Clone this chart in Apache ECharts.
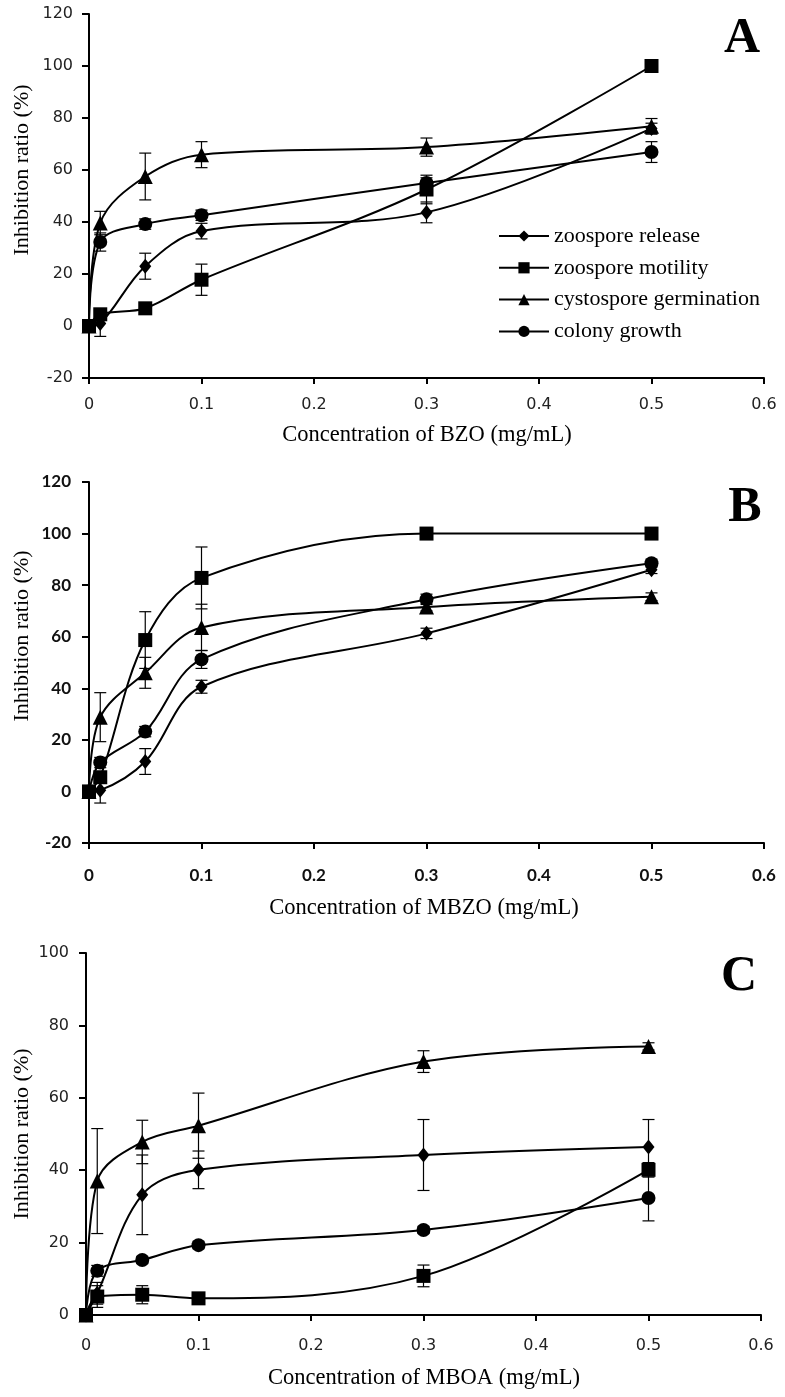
<!DOCTYPE html>
<html>
<head>
<meta charset="utf-8">
<script src="https://cdn.jsdelivr.net/npm/echarts@6/dist/echarts.min.js"></script>
<style>
html,body{margin:0;padding:0;background:#fff;}
#chart{width:785px;height:1397px;}
</style>
</head>
<body>
<div id="chart"></div>
<script>
// ---------- DATA ----------
const concentrations = [0, 0.01, 0.05, 0.1, 0.3, 0.5];
const seriesNames = ['zoospore release', 'zoospore motility', 'cystospore germination', 'colony growth'];
const xTickLabels = ['0', '0.1', '0.2', '0.3', '0.4', '0.5', '0.6'];
const panelLetters = ['A', 'B', 'C'];
const xTitles = ['Concentration of BZO (mg/mL)', 'Concentration of MBZO (mg/mL)', 'Concentration of MBOA (mg/mL)'];
const yTitle = 'Inhibition ratio (%)';

// Panel A : BZO
const bzoRelease        = [0, 1, 23, 36.5, 43.7, 76];
const bzoReleaseErr     = [0, 5, 5, 3, 4, 2];
const bzoMotility       = [0, 4.5, 6.8, 17.8, 52.5, 100];
const bzoMotilityErr    = [0, 1, 1, 6, 5.5, 0];
const bzoGermination    = [0, 39.6, 57.5, 65.9, 68.8, 76.8];
const bzoGerminationErr = [0, 4.5, 9, 5, 3.5, 3];
const bzoColony         = [0, 32.3, 39.2, 42.6, 55, 66.9];
const bzoColonyErr      = [0, 3.5, 2, 2, 2, 4];

// Panel B : MBZO
const mbzoRelease        = [0, 0.5, 11.6, 40.6, 61.3, 86];
const mbzoReleaseErr     = [0, 5, 5, 2.5, 2, 1.5];
const mbzoMotility       = [0, 5.5, 58.7, 82.8, 100, 100];
const mbzoMotilityErr    = [0, 2, 11, 12, 0, 0];
const mbzoGermination    = [0, 28.8, 46, 63.6, 71.5, 75.5];
const mbzoGerminationErr = [0, 9.5, 6, 9, 1.5, 1.5];
const mbzoColony         = [0, 11.2, 23.2, 51.2, 74.5, 88.5];
const mbzoColonyErr      = [0, 2, 2, 3.5, 2, 1.5];

// Panel C : MBOA
const mboaRelease        = [0, 6, 33.2, 40.1, 44.2, 46.4];
const mboaReleaseErr     = [0, 3, 11, 5.2, 9.8, 7.6];
const mboaMotility       = [0, 5.1, 5.6, 4.6, 10.8, 40.1];
const mboaMotilityErr    = [0, 3, 2.5, 1, 3, 2];
const mboaGermination    = [0, 37, 47.8, 52.3, 70, 74.2];
const mboaGerminationErr = [0, 14.5, 6, 9, 3, 1];
const mboaColony         = [0, 12.2, 15.2, 19.3, 23.5, 32.3];
const mboaColonyErr      = [0, 1.5, 1, 1, 1, 6.3];

const panelValues = [
  [bzoRelease, bzoMotility, bzoGermination, bzoColony],
  [mbzoRelease, mbzoMotility, mbzoGermination, mbzoColony],
  [mboaRelease, mboaMotility, mboaGermination, mboaColony]
];
const panelErrors = [
  [bzoReleaseErr, bzoMotilityErr, bzoGerminationErr, bzoColonyErr],
  [mbzoReleaseErr, mbzoMotilityErr, mbzoGerminationErr, mbzoColonyErr],
  [mboaReleaseErr, mboaMotilityErr, mboaGerminationErr, mboaColonyErr]
];

// ---------- STYLE / LAYOUT ----------
const symbols = ['diamond', 'rect', 'triangle', 'circle'];
const symbolSizes = [[12, 15], 14, 15, 14];
const grids = [
  {left: 89, top: 14, width: 675, height: 364},
  {left: 89, top: 482, width: 675, height: 361},
  {left: 86, top: 953, width: 675, height: 362}
];
const yRanges = [[-20, 120], [-20, 120], [0, 100]];
const tickFonts = [
  {fontFamily: 'DejaVu Sans', fontSize: 16, color: '#222'},
  {fontFamily: 'Lato', fontSize: 17, color: '#111', fontWeight: 'bold'},
  {fontFamily: 'DejaVu Sans', fontSize: 16, color: '#222'}
];
const xLabelMargins = [19, 24, 23];
const yLabelMargins = [16, 18, 17];
const yTitlePos = [[22, 170], [22, 636], [22, 1134]];
const xTitlePos = [[427, 435], [424, 908], [424, 1378]];
const letterPos = [[742, 39], [745, 508], [739, 977]];

const xAxes = [], yAxes = [], series = [], graphics = [];
grids.forEach((g, p) => {
  xAxes.push({
    type: 'value', gridIndex: p, min: 0, max: 0.6, interval: 0.1,
    axisLine: {onZero: false, lineStyle: {color: '#000', width: 2}},
    axisTick: {show: true, length: 6, lineStyle: {color: '#000', width: 2}},
    splitLine: {show: false},
    axisLabel: Object.assign({margin: xLabelMargins[p],
      formatter: v => xTickLabels[Math.round(v / 0.1)]}, tickFonts[p])
  });
  yAxes.push({
    type: 'value', gridIndex: p, min: yRanges[p][0], max: yRanges[p][1], interval: 20,
    axisLine: {show: true, onZero: false, lineStyle: {color: '#000', width: 2}},
    axisTick: {show: true, length: 7, lineStyle: {color: '#000', width: 2}},
    splitLine: {show: false},
    axisLabel: Object.assign({margin: yLabelMargins[p]}, tickFonts[p])
  });

  // error bars first (behind)
  seriesNames.forEach((name, s) => {
    const vals = panelValues[p][s], errs = panelErrors[p][s];
    const data = concentrations.map((x, i) => [x, vals[i] - errs[i], vals[i] + errs[i]])
      .filter(d => d[2] > d[1]);
    series.push({
      type: 'custom', name: 'err-' + p + '-' + s, xAxisIndex: p, yAxisIndex: p,
      silent: true, z: 1,
      encode: {x: 0, y: [1, 2]},
      data: data,
      renderItem: (params, api) => {
        const x = api.value(0);
        const lo = api.coord([x, api.value(1)]);
        const hi = api.coord([x, api.value(2)]);
        const w = 6;
        const st = {stroke: '#000', lineWidth: 1.2};
        return {type: 'group', children: [
          {type: 'line', shape: {x1: lo[0], y1: lo[1], x2: hi[0], y2: hi[1]}, style: st},
          {type: 'line', shape: {x1: hi[0] - w, y1: hi[1], x2: hi[0] + w, y2: hi[1]}, style: st},
          {type: 'line', shape: {x1: lo[0] - w, y1: lo[1], x2: lo[0] + w, y2: lo[1]}, style: st}
        ]};
      }
    });
  });
  seriesNames.forEach((name, s) => {
    series.push({
      type: 'line', name: name, xAxisIndex: p, yAxisIndex: p,
      data: concentrations.map((x, i) => [x, panelValues[p][s][i]]),
      smooth: 0.35, z: 3,
      symbol: symbols[s], symbolSize: symbolSizes[s], showAllSymbol: true,
      lineStyle: {color: '#000', width: 2},
      itemStyle: {color: '#000', borderWidth: 0},
      emphasis: {disabled: true},
      animation: false
    });
  });

  graphics.push({
    type: 'text', x: yTitlePos[p][0], y: yTitlePos[p][1], rotation: Math.PI / 2,
    style: {text: yTitle, font: '22px "Liberation Serif"', fill: '#000',
            textAlign: 'center', textVerticalAlign: 'middle'}
  });
  graphics.push({
    type: 'text', x: xTitlePos[p][0], y: xTitlePos[p][1],
    style: {text: xTitles[p], font: '22.5px "Liberation Serif"', fill: '#000',
            textAlign: 'center', textVerticalAlign: 'middle'}
  });
  graphics.push({
    type: 'text', x: letterPos[p][0], y: letterPos[p][1],
    style: {text: panelLetters[p], font: 'bold 50px "Liberation Serif"', fill: '#000',
            textAlign: 'center', textVerticalAlign: 'middle'}
  });
});

const chart = echarts.init(document.getElementById('chart'), null, {renderer: 'canvas'});
chart.setOption({
  backgroundColor: '#fff',
  animation: false,
  grid: grids,
  xAxis: xAxes,
  yAxis: yAxes,
  legend: {
    data: seriesNames, orient: 'vertical', left: 493, top: 220,
    itemWidth: 50, itemHeight: 14, itemGap: 9.8,
    selectedMode: false,
    textStyle: {fontFamily: 'Liberation Serif', fontSize: 22, color: '#000', lineHeight: 20}
  },
  series: series,
  graphic: graphics
});
</script>
</body>
</html>
